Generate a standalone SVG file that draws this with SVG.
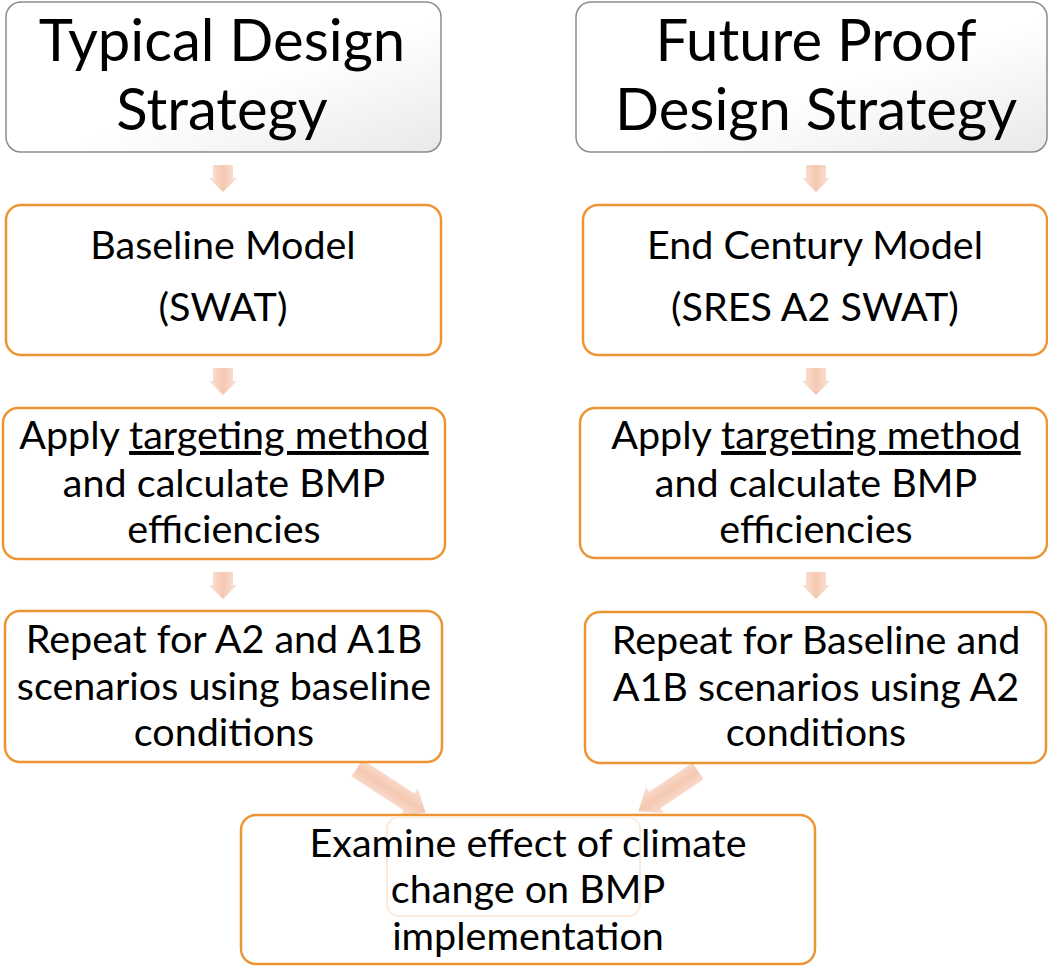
<svg xmlns="http://www.w3.org/2000/svg" width="1048" height="966" viewBox="0 0 1048 966">
<defs>
<linearGradient id="gBox" x1="0" y1="0" x2="1" y2="1">
<stop offset="0.55" stop-color="#FFFFFF"/>
<stop offset="1" stop-color="#E9E9E9"/>
</linearGradient>
<linearGradient id="gArrV" x1="0" y1="0" x2="1" y2="0">
<stop offset="0" stop-color="#FBE3D7"/>
<stop offset="0.5" stop-color="#F5C8B2"/>
<stop offset="1" stop-color="#FBE3D7"/>
</linearGradient>
<linearGradient id="gArrD" x1="0" y1="0" x2="0" y2="1">
<stop offset="0" stop-color="#FBE3D7"/>
<stop offset="0.5" stop-color="#F5C8B2"/>
<stop offset="1" stop-color="#FBE3D7"/>
</linearGradient>
<style>
.head{fill:url(#gBox);stroke:#8C8C8C;stroke-width:1.5}
.step{fill:#FFFFFF;stroke:#EC9535;stroke-width:2.5}
.ghost{fill:none;stroke:#FCEADB;stroke-width:2}
.t1{font-family:Lato,"Open Sans",sans-serif;font-size:58px;fill:#000;text-anchor:middle}
.t2{font-family:Lato,"Open Sans",sans-serif;font-size:39.5px;fill:#000;text-anchor:middle}
.av{fill:url(#gArrV)}
.ad{fill:url(#gArrD)}
</style>
</defs>

<g id="connectors">
<polygon class="av" points="213,165 233,165 233,178 237,178 223,192 209,178 213,178"/>
<polygon class="av" points="213,368 233,368 233,381 237,381 223,395 209,381 213,381"/>
<polygon class="av" points="213,572 233,572 233,585 237,585 223,599 209,585 213,585"/>
<polygon class="av" points="806,165 826,165 826,178 830,178 816,192 802,178 806,178"/>
<polygon class="av" points="806,368 826,368 826,381 830,381 816,395 802,381 806,381"/>
<polygon class="av" points="806,572 826,572 826,585 830,585 816,599 802,585 806,585"/>
<polygon class="ad" transform="translate(357,768) rotate(33)" points="0,-10 62,-10 62,-16 82,0 62,16 62,10 0,10"/>
<polygon class="ad" transform="translate(698,771) rotate(146)" points="0,-10 52,-10 52,-16 72,0 52,16 52,10 0,10"/>
</g>

<g id="typical">
<rect class="head" x="6" y="2" width="435" height="150" rx="15"/>
<text class="t1" x="222" y="61">Typical Design</text>
<text class="t1" x="222" y="130">Strategy</text>
</g>

<g id="futureproof">
<rect class="head" x="576" y="2" width="471" height="150" rx="15"/>
<text class="t1" x="816" y="61">Future Proof</text>
<text class="t1" x="816" y="130">Design Strategy</text>
</g>

<g id="baseline">
<rect class="step" x="6" y="205" width="435" height="150" rx="15"/>
<text class="t2" x="223" y="259">Baseline Model</text>
<text class="t2" x="223" y="321">(SWAT)</text>
</g>

<g id="endcentury">
<rect class="step" x="583" y="205" width="464" height="150" rx="15"/>
<text class="t2" x="815" y="259">End Century Model</text>
<text class="t2" x="815" y="321">(SRES A2 SWAT)</text>
</g>

<g id="apply-left">
<rect class="step" x="3" y="408" width="442" height="151" rx="15"/>
<text class="t2" x="224" y="449">Apply <tspan text-decoration="underline">targeting method</tspan></text>
<text class="t2" x="224" y="497">and calculate BMP</text>
<text class="t2" x="224" y="543">efficiencies</text>
</g>

<g id="apply-right">
<rect class="step" x="580" y="408" width="467" height="150" rx="15"/>
<text class="t2" x="816" y="449">Apply <tspan text-decoration="underline">targeting method</tspan></text>
<text class="t2" x="816" y="497">and calculate BMP</text>
<text class="t2" x="816" y="543">efficiencies</text>
</g>

<g id="repeat-left">
<rect class="step" x="5" y="611" width="437" height="151" rx="15"/>
<text class="t2" x="224" y="653">Repeat for A2 and A1B</text>
<text class="t2" x="224" y="700">scenarios using baseline</text>
<text class="t2" x="224" y="746">conditions</text>
</g>

<g id="repeat-right">
<rect class="step" x="585" y="612" width="461" height="151" rx="15"/>
<text class="t2" x="816" y="654">Repeat for Baseline and</text>
<text class="t2" x="816" y="701">A1B scenarios using A2</text>
<text class="t2" x="816" y="746">conditions</text>
</g>

<g id="examine">
<rect class="step" x="241" y="815" width="574" height="149" rx="15"/>
<rect class="ghost" x="387" y="817" width="253" height="99" rx="12"/>
<text class="t2" x="528" y="857">Examine effect of climate</text>
<text class="t2" x="528" y="903">change on BMP</text>
<text class="t2" x="528" y="950">implementation</text>
</g>
</svg>
